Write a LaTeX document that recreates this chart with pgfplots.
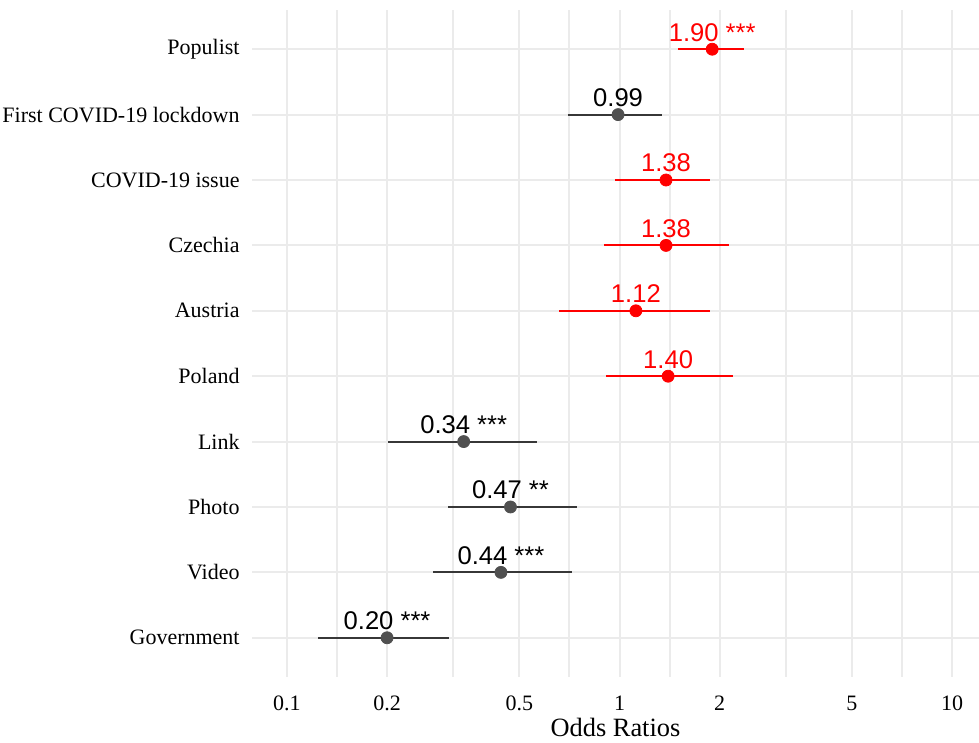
\documentclass[border=0pt]{standalone}
\usepackage{pgfplots}
\pgfplotsset{compat=1.18}
\usepackage{pgfplotstable}
\usepackage{fontspec}
\setmainfont{Liberation Serif}
\newfontfamily\arial{Liberation Sans}
\definecolor{gridc}{RGB}{235,235,235}
\definecolor{redc}{RGB}{255,0,0}
\definecolor{grayc}{RGB}{80,80,80}
\definecolor{linec}{RGB}{55,55,55}

\pgfplotstableread[col sep=comma]{
y,or,lab
10,1.90,1.90 ***
8,1.38,1.38
7,1.38,1.38
6,1.12,1.12
5,1.40,1.40
}\redtab
\pgfplotstableread[col sep=comma]{
y,or,lab
9,0.99,0.99
4,0.34,0.34 ***
3,0.47,0.47 **
2,0.44,0.44 ***
1,0.20,0.20 ***
}\graytab

\begin{document}
\begin{tikzpicture}
\useasboundingbox (-126pt,-33pt) rectangle (363.5pt,338.5pt);
\begin{axis}[
  at={(0,0)}, anchor=south west,
  scale only axis, width=363.5pt, height=333.5pt,
  xmode=log, xmin=0.0785, xmax=12.05,
  ymin=0.4, ymax=10.6,
  axis line style={draw=none},
  major tick length=0pt,
  xtick={0.1,0.2,0.5,1,2,5,10},
  xticklabels={0.1,0.2,0.5,1,2,5,10},
  extra x ticks={0.14142,0.31623,0.70711,1.41421,3.16228,7.07107},
  extra x tick labels={},
  extra x tick style={grid=major, major tick length=0pt},
  ytick={1,2,3,4,5,6,7,8,9,10},
  yticklabels={Government,Video,Photo,Link,Poland,Austria,Czechia,COVID-19 issue,First COVID-19 lockdown,Populist},
  grid=major,
  major grid style={draw=gridc, line width=1pt},
  xticklabel style={font=\fontsize{11}{13}\selectfont, anchor=base, yshift=-16.5pt, inner sep=0pt},
  yticklabel style={font=\fontsize{11}{13}\selectfont, anchor=east, xshift=-6pt, inner sep=0pt},
  xlabel={Odds Ratios},
  xlabel style={font=\fontsize{13.2}{16}\selectfont, at={(axis description cs:0.5,0)}, anchor=base, yshift=-30pt, inner sep=0pt},
  clip=false,
]
% CI lines (red)
\addplot[redc, line width=1pt, forget plot] coordinates {(1.50,10) (2.37,10)};
\addplot[redc, line width=1pt, forget plot] coordinates {(0.969,8) (1.87,8)};
\addplot[redc, line width=1pt, forget plot] coordinates {(0.898,7) (2.13,7)};
\addplot[redc, line width=1pt, forget plot] coordinates {(0.658,6) (1.87,6)};
\addplot[redc, line width=1pt, forget plot] coordinates {(0.911,5) (2.19,5)};
% CI lines (gray)
\addplot[linec, line width=1pt, forget plot] coordinates {(0.70,9) (1.34,9)};
\addplot[linec, line width=1pt, forget plot] coordinates {(0.201,4) (0.565,4)};
\addplot[linec, line width=1pt, forget plot] coordinates {(0.305,3) (0.745,3)};
\addplot[linec, line width=1pt, forget plot] coordinates {(0.275,2) (0.72,2)};
\addplot[linec, line width=1pt, forget plot] coordinates {(0.124,1) (0.307,1)};
% points and labels
\addplot[only marks, mark=*, mark size=3pt, mark options={fill=redc, draw=redc},
  point meta=explicit symbolic, nodes near coords,
  nodes near coords style={font=\arial\fontsize{12.8}{14}\selectfont, anchor=center, yshift=8.5pt, text=redc, inner sep=0pt}]
  table[x=or, y=y, meta=lab] {\redtab};
\addplot[only marks, mark=*, mark size=3pt, mark options={fill=grayc, draw=grayc},
  point meta=explicit symbolic, nodes near coords,
  nodes near coords style={font=\arial\fontsize{12.8}{14}\selectfont, anchor=center, yshift=8.5pt, text=black, inner sep=0pt}]
  table[x=or, y=y, meta=lab] {\graytab};
\end{axis}
\end{tikzpicture}
\end{document}
